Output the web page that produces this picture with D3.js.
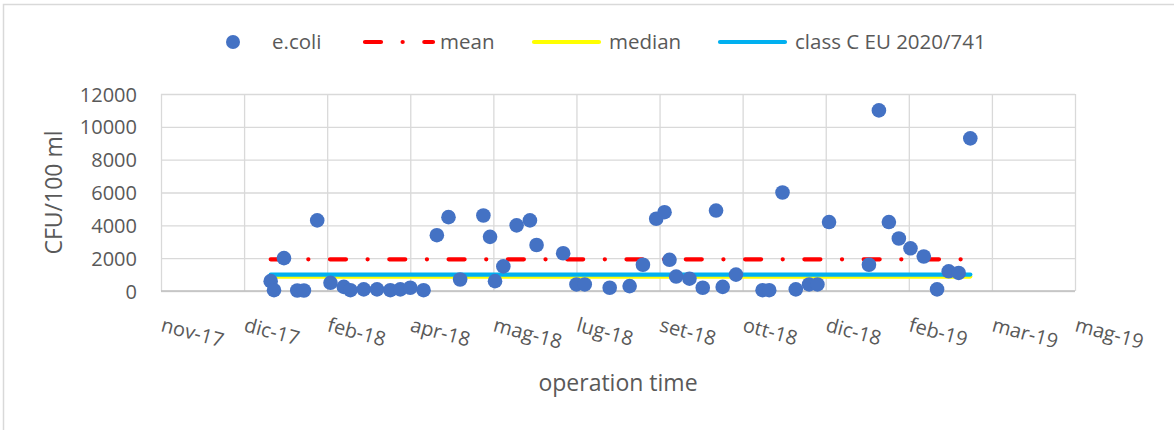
<!DOCTYPE html>
<html>
<head>
<meta charset="utf-8">
<script src="https://cdn.jsdelivr.net/npm/d3@7"></script>
<style>
  html, body { margin: 0; padding: 0; background: #fff; }
  svg { display: block; font-family: "Open Sans", sans-serif; }
</style>
</head>
<body>
<svg id="chart" width="1174" height="430"></svg>
<script>
// ---------------- data ----------------
const sampleDates = [
  "2018-01-14","2018-01-16","2018-01-22","2018-01-30","2018-02-03","2018-02-11","2018-02-19","2018-02-27",
  "2018-03-03","2018-03-11","2018-03-19","2018-03-27","2018-04-02","2018-04-08","2018-04-16","2018-04-24",
  "2018-05-01","2018-05-08","2018-05-22","2018-05-26","2018-05-29","2018-06-03","2018-06-11","2018-06-19",
  "2018-06-23","2018-07-09","2018-07-17","2018-07-22","2018-08-06","2018-08-18","2018-08-26","2018-09-03",
  "2018-09-08","2018-09-11","2018-09-15","2018-09-23","2018-10-01","2018-10-09","2018-10-13","2018-10-21",
  "2018-11-06","2018-11-10","2018-11-18","2018-11-26","2018-12-04","2018-12-09","2018-12-16","2019-01-09",
  "2019-01-15","2019-01-21","2019-01-27","2019-02-03","2019-02-11","2019-02-19","2019-02-26","2019-03-04",
  "2019-03-11"
];
const ecoliValues = [
  600, 50, 2000, 30, 30, 4300, 500, 250,
  50, 100, 100, 50, 100, 200, 50, 3400,
  4500, 700, 4600, 3300, 600, 1500, 4000, 4300,
  2800, 2300, 400, 400, 200, 300, 1600, 4400,
  4800, 1900, 880, 750, 200, 4900, 250, 1000,
  50, 50, 6000, 100, 400, 400, 4200, 1600,
  11000, 4200, 3200, 2600, 2100, 100, 1200, 1100,
  9300
];
const classCLimit = 1000;               // class C EU 2020/741
const seriesNames = ["e.coli", "mean", "median", "class C EU 2020/741"];
const xTickDates = ["2017-11-09","2017-12-29","2018-02-17","2018-04-08","2018-05-28","2018-07-17",
                    "2018-09-05","2018-10-25","2018-12-14","2019-02-02","2019-03-24","2019-05-13"];
const xTickLabels = ["nov-17","dic-17","feb-18","apr-18","mag-18","lug-18",
                     "set-18","ott-18","dic-18","feb-19","mar-19","mag-19"];
const yTicks = [0, 2000, 4000, 6000, 8000, 10000, 12000];
const yTitle = "CFU/100 ml";
const xTitle = "operation time";

// ---------------- setup ----------------
const parse = d3.utcParse("%Y-%m-%d");
const dates = sampleDates.map(parse);
const tickDates = xTickDates.map(parse);
const meanValue = d3.mean(ecoliValues);
const medianValue = d3.median(ecoliValues);

const svg = d3.select("#chart");
const plot = { left: 161, right: 1075, top: 94, bottom: 291 };
const textColor = "#595959";
const gridColor = "#d9d9d9";

const x = d3.scaleUtc()
  .domain([tickDates[0], tickDates[tickDates.length - 1]])
  .range([plot.left, plot.right]);
const y = d3.scaleLinear().domain([0, 12000]).range([plot.bottom, plot.top]);

// chart border
svg.append("rect")
  .attr("x", 3.5).attr("y", 4.5).attr("width", 1180).attr("height", 440)
  .attr("fill", "none").attr("stroke", "#d9d9d9").attr("stroke-width", 1.5);

// gridlines
const gy = svg.append("g").attr("transform", `translate(${plot.left},0)`)
  .call(d3.axisLeft(y).tickValues(yTicks).tickSize(-(plot.right - plot.left)).tickFormat(""));
gy.select(".domain").remove();
gy.selectAll(".tick line").attr("stroke", gridColor).attr("stroke-width", 1.3);

const gx = svg.append("g").attr("transform", `translate(0,${plot.top})`)
  .call(d3.axisBottom(x).tickValues(tickDates).tickSize(plot.bottom - plot.top).tickFormat(""));
gx.select(".domain").remove();
gx.selectAll(".tick line").attr("stroke", gridColor).attr("stroke-width", 1.3);

// bottom axis line
svg.append("line")
  .attr("x1", plot.left).attr("x2", plot.right)
  .attr("y1", y(0)).attr("y2", y(0))
  .attr("stroke", "#bfbfbf").attr("stroke-width", 1.3);

// y tick labels
const yAxis = svg.append("g").attr("transform", `translate(${plot.left - 24},0)`)
  .call(d3.axisLeft(y).tickValues(yTicks).tickSize(0).tickFormat(d3.format("d")));
yAxis.select(".domain").remove();
yAxis.selectAll("text")
  .attr("fill", textColor).attr("font-size", "20px")
  .attr("font-family", "'Open Sans', sans-serif").attr("dy", "0.35em").attr("x", 0);

// x tick labels (rotated)
svg.append("g").selectAll("text")
  .data(tickDates)
  .join("text")
  .attr("transform", d => `translate(${x(d) - 1},331) rotate(15)`)
  .attr("text-anchor", "start")
  .attr("font-size", "20px")
  .attr("fill", textColor)
  .text((d, i) => xTickLabels[i]);

// axis titles
svg.append("text")
  .attr("transform", `translate(62,${(plot.top + plot.bottom) / 2}) rotate(-90)`)
  .attr("text-anchor", "middle").attr("font-size", "23px").attr("fill", textColor)
  .text(yTitle);
svg.append("text")
  .attr("x", (plot.left + plot.right) / 2).attr("y", 391)
  .attr("text-anchor", "middle").attr("font-size", "23px").attr("fill", textColor)
  .text(xTitle);

// reference lines
const x0 = x(dates[0]), x1 = x(dates[dates.length - 1]);
const meanDash = "16 21.6 0.1 21.6";
svg.append("line")
  .attr("x1", x0).attr("x2", x1).attr("y1", y(medianValue)).attr("y2", y(medianValue))
  .attr("stroke", "#FFFF00").attr("stroke-width", 4.2).attr("stroke-linecap", "round");
svg.append("line")
  .attr("x1", x0).attr("x2", x1).attr("y1", y(classCLimit)).attr("y2", y(classCLimit))
  .attr("stroke", "#00B0F0").attr("stroke-width", 4.2).attr("stroke-linecap", "round");
svg.append("line")
  .attr("x1", x0).attr("x2", x1).attr("y1", y(meanValue)).attr("y2", y(meanValue))
  .attr("stroke", "#FF0000").attr("stroke-width", 4.2).attr("stroke-linecap", "round")
  .attr("stroke-dasharray", meanDash);

// e.coli markers
svg.append("g").selectAll("circle")
  .data(ecoliValues)
  .join("circle")
  .attr("cx", (d, i) => x(dates[i]))
  .attr("cy", d => y(d))
  .attr("r", 7.3)
  .attr("fill", "#4472C4");

// legend
const lg = svg.append("g").attr("font-size", "20.5px").attr("fill", textColor);
const ly = 42;
lg.append("circle").attr("cx", 233).attr("cy", ly).attr("r", 7).attr("fill", "#4472C4");
lg.append("text").attr("x", 272).attr("y", ly).attr("dy", "0.35em").text(seriesNames[0]);
lg.append("line").attr("x1", 365).attr("x2", 433).attr("y1", ly).attr("y2", ly)
  .attr("stroke", "#FF0000").attr("stroke-width", 4.2).attr("stroke-linecap", "round")
  .attr("stroke-dasharray", meanDash);
lg.append("text").attr("x", 440).attr("y", ly).attr("dy", "0.35em").text(seriesNames[1]);
lg.append("line").attr("x1", 534).attr("x2", 599).attr("y1", ly).attr("y2", ly)
  .attr("stroke", "#FFFF00").attr("stroke-width", 4.2).attr("stroke-linecap", "round");
lg.append("text").attr("x", 609).attr("y", ly).attr("dy", "0.35em").text(seriesNames[2]);
lg.append("line").attr("x1", 720).attr("x2", 785).attr("y1", ly).attr("y2", ly)
  .attr("stroke", "#00B0F0").attr("stroke-width", 4.2).attr("stroke-linecap", "round");
lg.append("text").attr("x", 795).attr("y", ly).attr("dy", "0.35em").text(seriesNames[3]);
</script>
</body>
</html>
